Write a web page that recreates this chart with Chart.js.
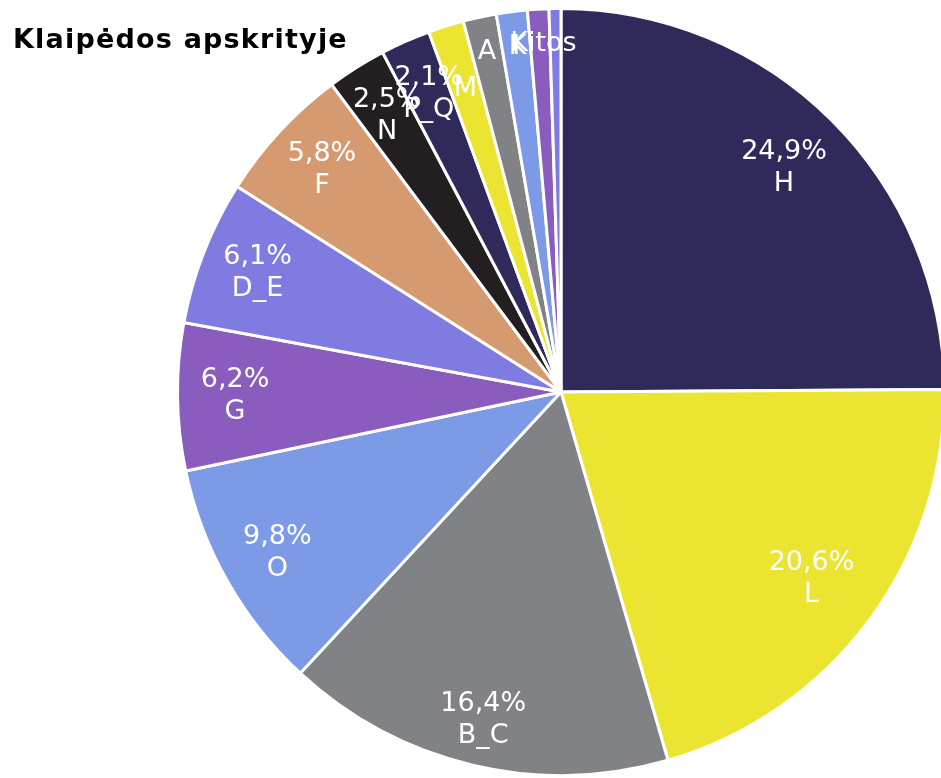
<!DOCTYPE html>
<html>
<head>
<meta charset="utf-8">
<script src="https://cdn.jsdelivr.net/npm/chart.js@4.4.1/dist/chart.umd.min.js"></script>
<style>
html,body{margin:0;padding:0;background:#fff;overflow:hidden;}
#wrap{width:941px;height:778px;position:relative;overflow:hidden;}
</style>
</head>
<body>
<div id="wrap"><canvas id="c" width="946" height="778"></canvas></div>
<script>
const title = "Klaipėdos apskrityje";
const categories = ["H", "L", "B_C", "O", "G", "D_E", "F", "N", "P_Q", "M", "A", "I", "K", "Kitos"];
const shares = [24.9, 20.6, 16.4, 9.8, 6.2, 6.1, 5.8, 2.5, 2.1, 1.5, 1.4, 1.3, 0.9, 0.5];
const palette = ["#302a5a", "#ebe532", "#818285", "#7d9ae6", "#8a5cbe", "#807be0", "#d69a70", "#231f20"];
const colors = categories.map((_, i) => palette[i % palette.length]);

// label placement (fraction of radius) – styling only, not data
const labelRadius = { H: 0.825, L: 0.815, B_C: 0.88, M: 0.83 };

const labelPlugin = {
  id: 'sliceLabels',
  afterDatasetsDraw(chart) {
    const ctx = chart.ctx;
    const meta = chart.getDatasetMeta(0);
    ctx.save();
    ctx.fillStyle = '#ffffff';
    ctx.textAlign = 'center';
    ctx.textBaseline = 'middle';
    ctx.font = '27px "DejaVu Sans", Verdana, sans-serif';
    meta.data.forEach((arc, i) => {
      const v = shares[i];
      const name = categories[i];
      const twoLine = v >= 2;
      let mid = (arc.startAngle + arc.endAngle) / 2;
      let frac = labelRadius[name] || (twoLine ? 0.85 : 0.91);
      // crowded tiny slices near the top: labels pushed together as in the source
      if (name === 'K') { mid = arc.startAngle - 0.037; }
      if (name === 'Kitos') { mid = arc.startAngle - 0.019; }
      const r = arc.outerRadius * frac;
      const x = arc.x + Math.cos(mid) * r;
      const y = arc.y + Math.sin(mid) * r;
      if (twoLine) {
        ctx.fillText(v.toFixed(1).replace('.', ',') + '%', x, y - 16);
        ctx.fillText(name, x, y + 16);
      } else {
        ctx.fillText(name, x, y + 1);
      }
    });
    ctx.restore();
  },
  afterDraw(chart) {
    const ctx = chart.ctx;
    ctx.save();
    ctx.fillStyle = '#000';
    ctx.textAlign = 'left';
    ctx.textBaseline = 'alphabetic';
    ctx.font = 'bold 27px "DejaVu Sans", Verdana, sans-serif';
    if ('letterSpacing' in ctx) ctx.letterSpacing = '1.2px';
    ctx.fillText(title, 13, 48);
    ctx.restore();
  }
};

new Chart(document.getElementById('c'), {
  type: 'pie',
  data: {
    labels: categories,
    datasets: [{
      data: shares,
      backgroundColor: colors,
      borderColor: '#ffffff',
      borderWidth: 3
    }]
  },
  options: {
    responsive: false,
    animation: false,
    layout: { padding: { left: 176, right: 0, top: 7, bottom: 1 } },
    plugins: {
      legend: { display: false },
      tooltip: { enabled: false },
      title: { display: false }
    }
  },
  plugins: [labelPlugin]
});
</script>
</body>
</html>
